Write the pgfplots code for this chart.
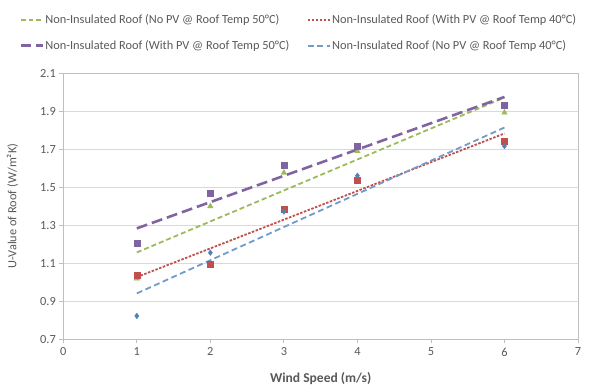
\documentclass[border=0pt]{standalone}
\usepackage{fontspec}
\setmainfont{Carlito}
\usepackage{pgfplots}
\usepackage{pgfplotstable}
\pgfplotsset{compat=1.18}
\definecolor{xlblue}{HTML}{4F81BD}
\definecolor{xlred}{HTML}{C0504D}
\definecolor{xlgreen}{HTML}{9BBB59}
\definecolor{xlpurple}{HTML}{8064A2}
\definecolor{txtgray}{HTML}{595959}
\definecolor{axgray}{HTML}{BFBFBF}
\definecolor{gridgray}{HTML}{D9D9D9}
\pgfplotstableread{
x y
1 1.02
2 1.40
3 1.577
4 1.69
6 1.893
}\datagreen
\pgfplotstableread{
x y
1 1.038
2 1.096
3 1.384
4 1.538
6 1.744
}\datared
\pgfplotstableread{
x y
1 1.205
2 1.470
3 1.616
4 1.717
6 1.933
}\datapurple
\pgfplotstableread{
x y
1 0.823
2 1.156
3 1.372
4 1.561
6 1.717
}\datablue
\begin{document}
\begin{tikzpicture}
\path[use as bounding box] (-63.3bp,-46.7bp) rectangle (533.7bp,339.3bp);
\begin{axis}[
  at={(0,0)}, anchor=south west,
  scale only axis, width=514.7bp, height=266bp,
  xmin=0, xmax=7, ymin=0.7, ymax=2.1,
  xtick={0,...,7},
  ytick={0.7,0.9,...,2.1},
  yticklabel style={/pgf/number format/.cd, fixed, fixed zerofill, precision=1},
  /pgf/number format/assume math mode=true,
  ymajorgrids, grid style={gridgray, line width=0.8pt},
  axis line style={axgray, line width=0.8pt},
  tick style={axgray, line width=0.8pt},
  tick align=outside, major tick length=4bp,
  xtick pos=bottom, ytick pos=left,
  tick label style={font=\fontsize{12.4}{14}\selectfont, text=txtgray},
  xticklabel style={yshift=-1bp},
  xlabel={Wind Speed (m/s)},
  ylabel={U-Value of Roof (W/m²K)},
  label style={font=\fontsize{12.4}{14}\selectfont, text=txtgray},
  xlabel style={at={(axis description cs:0.5,-0.147)}, anchor=center, font=\fontsize{13.6}{15}\selectfont\bfseries},
  ylabel style={at={(axis description cs:-0.099,0.5)}, anchor=center, rotate=0},
  legend columns=2,
  legend image code/.code={\draw[#1] (0bp,0bp) -- (22bp,0bp);},
  legend style={at={(axis description cs:-0.086,1.228)}, anchor=north west, draw=none, fill=none, inner sep=0pt,
    font=\fontsize{12.4}{14}\selectfont, text=txtgray, row sep=11bp,
    nodes={inner xsep=1.5bp},
    /tikz/every even column/.append style={column sep=16bp},
    cells={anchor=west}},
  legend cell align=left,
]
\addplot[only marks, mark=triangle*, mark size=3.2bp, color=xlgreen, forget plot] table[x=x,y=y] {\datagreen};
\addplot[only marks, mark=square*, mark size=3bp, color=xlred, forget plot] table[x=x,y=y] {\datared};
\addplot[only marks, mark=square*, mark size=3bp, color=xlpurple, forget plot] table[x=x,y=y] {\datapurple};
\addplot[only marks, mark=diamond*, mark size=2.8bp, color=xlblue, forget plot] table[x=x,y=y] {\datablue};
\addplot[no marks, xlgreen, line width=1.8pt, dash pattern=on 5pt off 3pt] table[x=x, y={create col/linear regression={y=y}}] {\datagreen};
\addlegendentry{Non-Insulated Roof (No PV @ Roof Temp 50°C)}
\addplot[no marks, xlred, line width=1.8pt, dash pattern=on 2.5pt off 1.5pt] table[x=x, y={create col/linear regression={y=y}}] {\datared};
\addlegendentry{Non-Insulated Roof (With PV @ Roof Temp 40°C)}
\addplot[no marks, xlpurple, line width=2.6pt, dash pattern=on 11pt off 5pt] table[x=x, y={create col/linear regression={y=y}}] {\datapurple};
\addlegendentry{Non-Insulated Roof (With PV @ Roof Temp 50°C)}
\addplot[no marks, xlblue!80, line width=1.8pt, dash pattern=on 6pt off 3.5pt] table[x=x, y={create col/linear regression={y=y}}] {\datablue};
\addlegendentry{Non-Insulated Roof (No PV @ Roof Temp 40°C)}
\end{axis}
\end{tikzpicture}
\end{document}
